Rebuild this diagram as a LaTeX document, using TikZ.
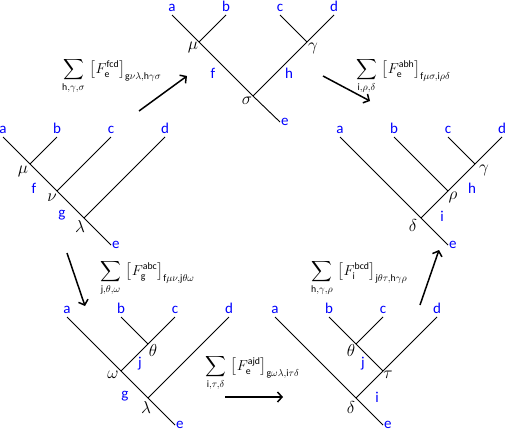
\documentclass[tikz,border=0pt]{standalone}
\usepackage{amsmath}
\usepackage{fontspec}
\setsansfont{Carlito}
\usetikzlibrary{arrows.meta,calc}
\begin{document}
\begin{tikzpicture}[x=1pt,y=-1pt,
  edge/.style={line width=0.9pt},
  move/.style={line width=1.5pt,-{Straight Barb[length=4.5pt,width=10pt]}},
  leaf/.style={text=blue,font=\fontsize{15}{15}\sffamily,anchor=base,inner sep=0pt},
  elab/.style={text=blue,font=\fontsize{15}{15}\sffamily,inner sep=0pt},
  rootlab/.style={text=blue,font=\fontsize{15}{15}\sffamily,anchor=west,inner sep=1pt},
  glab/.style={font=\fontsize{17.28}{18}\selectfont,inner sep=0pt},
  sumlab/.style={font=\fontsize{14}{14}\selectfont,inner sep=0pt,anchor=base west}]
\useasboundingbox (0,0) rectangle (509,431);

% ---------- Tree 1 ----------
\coordinate (t1a) at (3,137); \coordinate (t1b) at (57,137);
\coordinate (t1c) at (111,137); \coordinate (t1d) at (165,137);
\coordinate (t1mu) at (30,164); \coordinate (t1nu) at (57,191);
\coordinate (t1la) at (84,218); \coordinate (t1e) at (111,245);
\draw[edge] (t1a) -- (t1mu) -- (t1nu) -- (t1la) -- (t1e);
\draw[edge] (t1b) -- (t1mu);
\draw[edge] (t1c) -- (t1nu);
\draw[edge] (t1d) -- (t1la);
\node[leaf] (t1na) at ($(t1a)+(0,-4)$) {a};
\node[leaf] (t1nb) at ($(t1b)+(0,-4)$) {b};
\node[leaf] (t1nc) at ($(t1c)+(0,-4)$) {c};
\node[leaf] (t1nd) at ($(t1d)+(0,-4)$) {d};
\node[rootlab] (t1ne) at (t1e) {e};
\node[glab] (t1gmu) at (23,171) {$\mu$};
\node[elab] (t1lf) at (34,188) {f};
\node[glab] (t1gnu) at (52,198) {$\nu$};
\node[elab] (t1lg) at (62,215) {g};
\node[glab] (t1gla) at (80,226) {$\lambda$};

% ---------- Tree 2 ----------
\coordinate (t2a) at (172,15); \coordinate (t2b) at (226,15);
\coordinate (t2c) at (280,15); \coordinate (t2d) at (334,15);
\coordinate (t2mu) at (199,42); \coordinate (t2si) at (253,96);
\coordinate (t2ga) at (307,42); \coordinate (t2e) at (280,122);
\draw[edge] (t2a) -- (t2mu) -- (t2si) -- (t2e);
\draw[edge] (t2b) -- (t2mu);
\draw[edge] (t2d) -- (t2ga) -- (t2si);
\draw[edge] (t2c) -- (t2ga);
\node[leaf] (t2na) at ($(t2a)+(0,-4)$) {a};
\node[leaf] (t2nb) at ($(t2b)+(0,-4)$) {b};
\node[leaf] (t2nc) at ($(t2c)+(0,-4)$) {c};
\node[leaf] (t2nd) at ($(t2d)+(0,-4)$) {d};
\node[rootlab] (t2ne) at (t2e) {e};
\node[glab] (t2gmu) at (193,47) {$\mu$};
\node[elab] (t2lf) at (213,73) {f};
\node[elab] (t2lh) at (289,73) {h};
\node[glab] (t2gsi) at (247,101) {$\sigma$};
\node[glab] (t2gga) at (313,48) {$\gamma$};

% ---------- Tree 3 ----------
\coordinate (t3a) at (340,137); \coordinate (t3b) at (394,137);
\coordinate (t3c) at (448,137); \coordinate (t3d) at (502,137);
\coordinate (t3de) at (421,218); \coordinate (t3rh) at (448,191);
\coordinate (t3ga) at (475,164); \coordinate (t3e) at (448,245);
\draw[edge] (t3a) -- (t3de) -- (t3e);
\draw[edge] (t3d) -- (t3ga) -- (t3rh) -- (t3de);
\draw[edge] (t3b) -- (t3rh);
\draw[edge] (t3c) -- (t3ga);
\node[leaf] (t3na) at ($(t3a)+(0,-4)$) {a};
\node[leaf] (t3nb) at ($(t3b)+(0,-4)$) {b};
\node[leaf] (t3nc) at ($(t3c)+(0,-4)$) {c};
\node[leaf] (t3nd) at ($(t3d)+(0,-4)$) {d};
\node[rootlab] (t3ne) at (t3e) {e};
\node[glab] (t3gga) at (484,170) {$\gamma$};
\node[elab] (t3lh) at (472,188) {h};
\node[glab] (t3grh) at (453,197) {$\rho$};
\node[elab] (t3li) at (442,216) {i};
\node[glab] (t3gde) at (413,225) {$\delta$};

% ---------- Tree 4 ----------
\coordinate (t4a) at (67,317); \coordinate (t4b) at (121,317);
\coordinate (t4c) at (175,317); \coordinate (t4d) at (229,317);
\coordinate (t4th) at (148,344); \coordinate (t4om) at (121,371);
\coordinate (t4la) at (148,398); \coordinate (t4e) at (175,425);
\draw[edge] (t4a) -- (t4om) -- (t4la) -- (t4e);
\draw[edge] (t4c) -- (t4th) -- (t4om);
\draw[edge] (t4b) -- (t4th);
\draw[edge] (t4d) -- (t4la);
\node[leaf] (t4na) at ($(t4a)+(0,-4)$) {a};
\node[leaf] (t4nb) at ($(t4b)+(0,-4)$) {b};
\node[leaf] (t4nc) at ($(t4c)+(0,-4)$) {c};
\node[leaf] (t4nd) at ($(t4d)+(0,-4)$) {d};
\node[rootlab] (t4ne) at (t4e) {e};
\node[glab] (t4gth) at (153,350) {$\theta$};
\node[elab] (t4lj) at (140,364) {j};
\node[glab] (t4gom) at (113,375) {$\omega$};
\node[elab] (t4lg) at (125,396) {g};
\node[glab] (t4gla) at (146,407) {$\lambda$};

% ---------- Tree 5 ----------
\coordinate (t5a) at (275,317); \coordinate (t5b) at (329,317);
\coordinate (t5c) at (383,317); \coordinate (t5d) at (437,317);
\coordinate (t5th) at (356,344); \coordinate (t5ta) at (383,371);
\coordinate (t5de) at (356,398); \coordinate (t5e) at (383,425);
\draw[edge] (t5a) -- (t5de) -- (t5e);
\draw[edge] (t5b) -- (t5th) -- (t5ta);
\draw[edge] (t5c) -- (t5th);
\draw[edge] (t5d) -- (t5ta) -- (t5de);
\node[leaf] (t5na) at ($(t5a)+(0,-4)$) {a};
\node[leaf] (t5nb) at ($(t5b)+(0,-4)$) {b};
\node[leaf] (t5nc) at ($(t5c)+(0,-4)$) {c};
\node[leaf] (t5nd) at ($(t5d)+(0,-4)$) {d};
\node[rootlab] (t5ne) at (t5e) {e};
\node[glab] (t5gth) at (351,350) {$\theta$};
\node[elab] (t5lj) at (363,364) {j};
\node[glab] (t5gta) at (388,375) {$\tau$};
\node[elab] (t5li) at (377,397) {i};
\node[glab] (t5gde) at (351,407) {$\delta$};

% ---------- moves ----------
\coordinate (m1s) at (139,111); \coordinate (m1e) at (187,76);
\coordinate (m2s) at (323,76);  \coordinate (m2e) at (370,101);
\coordinate (m3s) at (67,253);  \coordinate (m3e) at (85,306);
\coordinate (m4s) at (225,397); \coordinate (m4e) at (283,397);
\coordinate (m5s) at (420,305); \coordinate (m5e) at (439,250);
\draw[move] (m1s) -- (m1e);
\draw[move] (m2s) -- (m2e);
\draw[move] (m3s) -- (m3e);
\draw[move] (m4s) -- (m4e);
\draw[move] (m5s) -- (m5e);

\node[sumlab] (s1) at (62,73.5) {$\displaystyle\sum_{\textsf{h},\gamma,\sigma}\,\left[F^{\textsf{fcd}}_{\textsf{e}}\right]_{\textsf{g}\nu\lambda,\textsf{h}\gamma\sigma}$};
\node[sumlab] (s2) at (356,73.5) {$\displaystyle\sum_{\textsf{i},\rho,\delta}\,\left[F^{\textsf{abh}}_{\textsf{e}}\right]_{\textsf{f}\mu\sigma,\textsf{i}\rho\delta}$};
\node[sumlab] (s3) at (100,275.5) {$\displaystyle\sum_{\textsf{j},\theta,\omega}\,\left[F^{\textsf{abc}}_{\textsf{g}}\right]_{\textsf{f}\mu\nu,\textsf{j}\theta\omega}$};
\node[sumlab] (s4) at (205,370.5) {$\displaystyle\sum_{\textsf{i},\tau,\delta}\,\left[F^{\textsf{ajd}}_{\textsf{e}}\right]_{\textsf{g}\omega\lambda,\textsf{i}\tau\delta}$};
\node[sumlab] (s5) at (311,275.5) {$\displaystyle\sum_{\textsf{h},\gamma,\rho}\,\left[F^{\textsf{bcd}}_{\textsf{i}}\right]_{\textsf{j}\theta\tau,\textsf{h}\gamma\rho}$};
\end{tikzpicture}
\end{document}
